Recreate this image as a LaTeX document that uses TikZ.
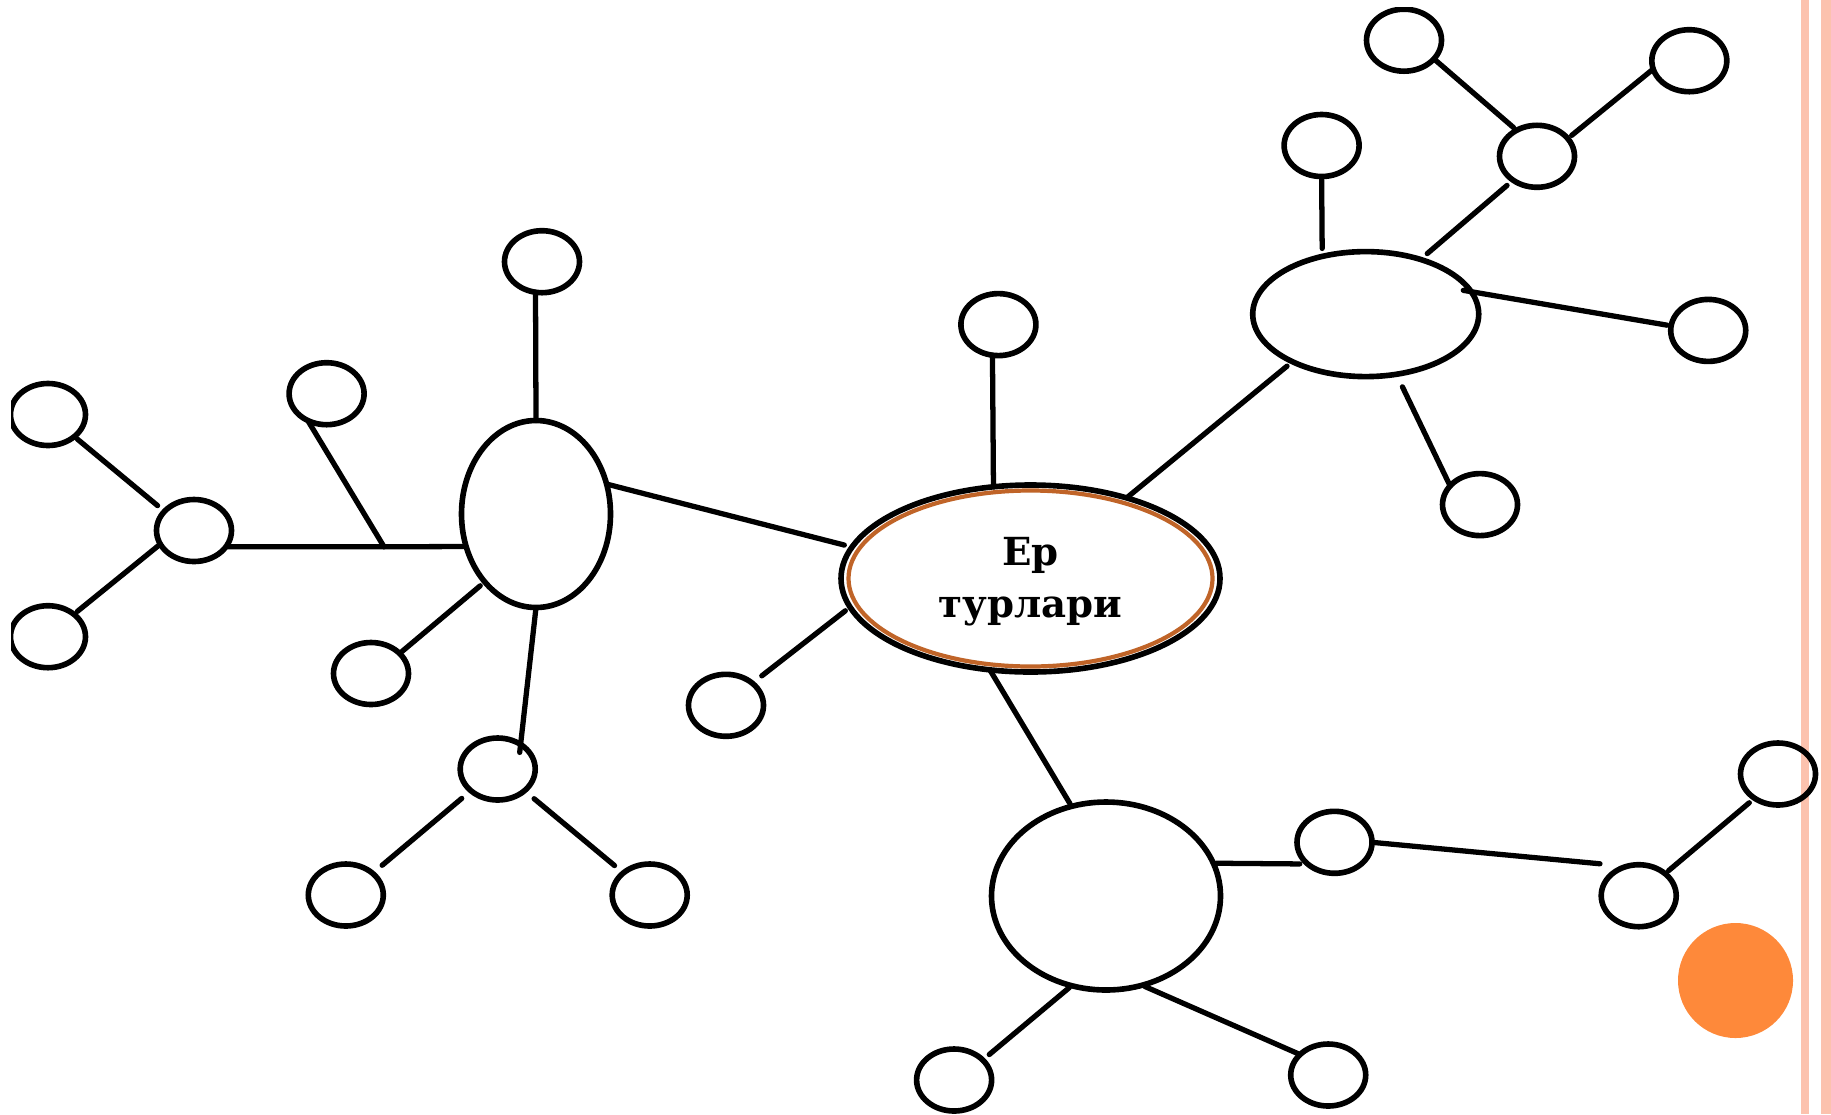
\documentclass[tikz,border=0pt]{standalone}
\usepackage{fontspec}
\setmainfont{DejaVu Serif}
\usetikzlibrary{shapes.geometric}
\definecolor{ringbrown}{RGB}{192,100,40}
\definecolor{stripe}{RGB}{252,194,174}
\definecolor{dotorange}{RGB}{254,137,58}
\begin{document}
\begin{tikzpicture}[main node/.style={ellipse, draw, line width=1.6pt, inner sep=0pt, outer sep=0pt},
  leaf node/.style={main node, minimum width=0.75cm, minimum height=0.62cm},
  every edge/.style={draw, line width=1.5pt, line cap=round}]
        \tikzstyle{every node}=[font=\bfseries\fontsize{11}{14.8}\selectfont]
        \useasboundingbox (0,0) rectangle (18.31,-11.14);
        \fill[white] (0,0) rectangle (18.31,-11.14);

        % slide decoration
        \fill[stripe] (18.01,0) rectangle (18.09,-11.14);
        \fill[stripe] (18.21,0) rectangle (18.31,-11.14);
        \fill[dotorange] (17.355,-9.805) circle (0.575);

        \begin{scope}
          \clip (0.11,-0.07) rectangle (18.31,-11.14);

          \node[main node, minimum width=3.79cm, minimum height=1.87cm, align=center] (0) at (10.305,-5.785) {\rule{0pt}{10pt}Ер\\турлари};
          \draw[ringbrown, line width=1.2pt] (0.center) ellipse [x radius=1.82, y radius=0.88];

          \node[main node, minimum width=1.49cm, minimum height=1.87cm] (1) at (5.36,-5.14) {};
          \node[main node, minimum width=2.26cm, minimum height=1.25cm] (2) at (13.657,-3.141) {};
          \node[main node, minimum width=2.29cm, minimum height=1.88cm] (3) at (11.06,-8.96) {};

          \node[leaf node] (4) at (5.42,-2.617) {};
          \node[leaf node] (5) at (3.266,-3.937) {};
          \node[leaf node] (6) at (0.48,-4.145) {};
          \node[leaf node] (7) at (1.94,-5.305) {};
          \node[leaf node] (8) at (0.48,-6.367) {};
          \node[leaf node] (9) at (3.71,-6.735) {};
          \node[leaf node] (10) at (4.977,-7.69) {};
          \node[leaf node] (11) at (3.458,-8.95) {};
          \node[leaf node] (12) at (6.497,-8.95) {};
          \node[leaf node] (13) at (7.26,-7.053) {};
          \node[leaf node] (14) at (9.984,-3.246) {};
          \node[leaf node] (15) at (13.216,-1.455) {};
          \node[leaf node] (16) at (14.04,-0.402) {};
          \node[leaf node] (17) at (15.37,-1.563) {};
          \node[leaf node] (18) at (16.893,-0.607) {};
          \node[leaf node] (19) at (17.082,-3.304) {};
          \node[leaf node] (20) at (14.80,-5.046) {};
          \node[leaf node] (21) at (13.345,-8.423) {};
          \node[leaf node] (22) at (16.387,-8.957) {};
          \node[leaf node] (23) at (17.78,-7.74) {};
          \node[leaf node] (24) at (9.541,-10.80) {};
          \node[leaf node] (25) at (13.282,-10.75) {};
          \coordinate (j) at (3.84,-5.467);

          \path (0.170) edge[shorten <=0.08cm, shorten >=0.01cm] (1.23)
                (0.189) edge[shorten <=0.06cm, shorten >=0.12cm] (13.40)
                (0.112) edge (14.259)
                (0.40) edge[shorten <=0.02cm, shorten >=0.07cm] (2.213)
                (0.246) edge[shorten >=0.03cm] (3.111);

          \path (2.127) edge[shorten <=0.08cm, shorten >=0.03cm] (15.270)
                (2.45) edge[shorten <=0.09cm, shorten >=0.08cm] (17.225)
                (2.12) edge[shorten <=-0.08cm, shorten >=0.04cm] (19.173)
                (2.297) edge[shorten <=0.14cm] (20.148)
                (17.128) edge[shorten <=0.04cm] (16.328)
                (17.30) edge[shorten <=0.05cm] (18.193);

          \path (3.17) edge[shorten <=0.03cm, shorten >=0.08cm] (21.219)
                (3.249) edge[shorten <=0.03cm, shorten >=0.085cm] (24.35)
                (3.292) edge[shorten <=0.03cm] (25.144)
                (21.0) edge[shorten <=0.02cm, shorten >=0.27cm] (22.112)
                (22.40) edge[shorten <=0.045cm, shorten >=0.07cm] (23.226);

          \path (1.90) edge (4.258)
                (1.233) edge[shorten <=0.06cm, shorten >=0.01cm] (9.35)
                (1.270) edge[shorten <=0.02cm, shorten >=-0.08cm] (10.47)
                (1.205) edge[shorten <=0.03cm] (j)
                (j) edge[shorten >=0.02cm] (7.333)
                (j) edge (5.235)
                (10.219) edge[shorten <=0.12cm, shorten >=0.125cm] (11.39)
                (10.321) edge[shorten <=0.125cm, shorten >=0.115cm] (12.140)
                (7.147) edge[shorten <=0.09cm, shorten >=0.04cm] (6.320)
                (7.202) edge[shorten <=0.01cm, shorten >=0.045cm] (8.41);
        \end{scope}
\end{tikzpicture}
\end{document}
